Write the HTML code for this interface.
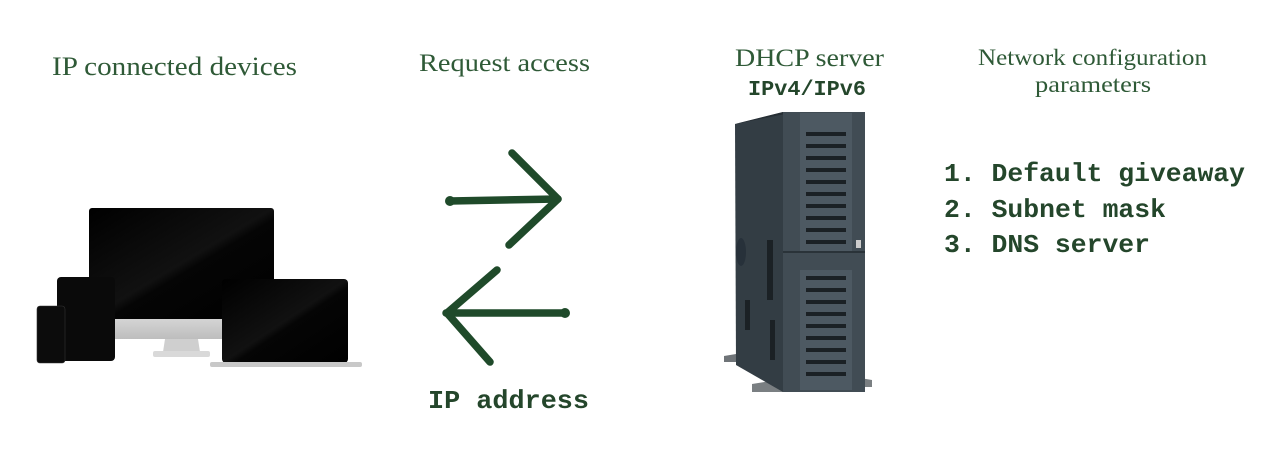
<!DOCTYPE html>
<html><head><meta charset="utf-8"><style>html,body{margin:0;padding:0;background:#fff}svg{display:block}</style></head>
<body>
<svg width="1280" height="449" viewBox="0 0 1280 449" xmlns="http://www.w3.org/2000/svg">
<defs>
<linearGradient id="scr" x1="0" y1="0" x2="1" y2="1"><stop offset="0" stop-color="#000"/><stop offset="0.5" stop-color="#111"/><stop offset="0.55" stop-color="#050505"/><stop offset="1" stop-color="#000"/></linearGradient>
<linearGradient id="silver" x1="0" y1="0" x2="0" y2="1"><stop offset="0" stop-color="#d8d8d8"/><stop offset="1" stop-color="#bdbdbd"/></linearGradient>
</defs>
<rect width="1280" height="449" fill="#fff"/>
<g font-family="'Liberation Serif', serif" fill="#2f5a37">
<text x="52" y="75" font-size="26" textLength="245" lengthAdjust="spacingAndGlyphs">IP connected devices</text>
<text x="419" y="71" font-size="25" textLength="171" lengthAdjust="spacingAndGlyphs">Request access</text>
<text x="735" y="66" font-size="25" textLength="149" lengthAdjust="spacingAndGlyphs">DHCP server</text>
<text x="978" y="65" font-size="23" textLength="229" lengthAdjust="spacingAndGlyphs">Network configuration</text>
<text x="1035" y="92" font-size="23" textLength="116" lengthAdjust="spacingAndGlyphs">parameters</text>
</g>
<g font-family="'Liberation Mono', monospace" font-weight="bold" fill="#24462b">
<text x="748" y="95" font-size="21" textLength="118" lengthAdjust="spacingAndGlyphs">IPv4/IPv6</text>
<text x="428" y="408" font-size="26" textLength="161" lengthAdjust="spacingAndGlyphs">IP address</text>
<text x="944" y="181" font-size="26" textLength="301" lengthAdjust="spacingAndGlyphs">1. Default giveaway</text>
<text x="944" y="217" font-size="26" textLength="222" lengthAdjust="spacingAndGlyphs">2. Subnet mask</text>
<text x="944" y="252" font-size="26" textLength="206" lengthAdjust="spacingAndGlyphs">3. DNS server</text>
</g>
<!-- arrows -->
<g stroke="#1f4a2a" stroke-width="7.5" fill="none" stroke-linecap="round" stroke-linejoin="round">
<path d="M450 201 L558 199"/><path d="M512 153 L558 199 L509 245"/>
<path d="M565 313 L446 313"/><path d="M497 270 L447 313 L490 362"/>
</g>
<g fill="#1f4a2a"><circle cx="450" cy="201" r="5"/><circle cx="565" cy="313" r="5"/></g>
<!-- devices -->
<rect x="115" y="316" width="107" height="23" fill="url(#silver)"/>
<path d="M165 339 L198 339 L200 352 L163 352 Z" fill="#cfcfcf"/>
<rect x="153" y="351" width="57" height="6" rx="2" fill="#d9d9d9"/>
<rect x="89" y="208" width="185" height="111" rx="3" fill="url(#scr)"/>
<rect x="57" y="277" width="58" height="84" rx="4" fill="#0a0a0a"/>
<rect x="37" y="306" width="28" height="57" rx="3" fill="#0c0c0c" stroke="#333" stroke-width="0.6"/>
<rect x="222" y="279" width="126" height="84" rx="4" fill="url(#scr)"/>
<rect x="210" y="362" width="152" height="5" rx="2" fill="#c8c8c8"/>
<!-- server -->
<path d="M724 356 L748 352 L748 362 L724 362 Z" fill="#6f7478"/>
<path d="M752 384 L790 378 L790 392 L752 392 Z" fill="#7a7f82"/>
<path d="M860 378 L872 380 L872 387 L860 387 Z" fill="#7a7f82"/>
<path d="M735 124 L783 112 L783 392 L736 365 Z" fill="#333d44"/>
<path d="M735 124 L783 112 L863 112 L863 114 L785 114 Z" fill="#262e34"/>
<rect x="783" y="112" width="82" height="280" fill="#414c54"/>
<rect x="800" y="113" width="52" height="140" fill="#4d5962"/>
<rect x="800" y="270" width="52" height="120" fill="#4d5962"/>
<line x1="783" y1="252" x2="865" y2="252" stroke="#2a3339" stroke-width="2"/>
<g fill="#1b2125">
<rect x="806" y="132" width="40" height="4"/><rect x="806" y="144" width="40" height="4"/><rect x="806" y="156" width="40" height="4"/><rect x="806" y="168" width="40" height="4"/><rect x="806" y="180" width="40" height="4"/><rect x="806" y="192" width="40" height="4"/><rect x="806" y="204" width="40" height="4"/><rect x="806" y="216" width="40" height="4"/><rect x="806" y="228" width="40" height="4"/><rect x="806" y="240" width="40" height="4"/>
<rect x="806" y="276" width="40" height="4"/><rect x="806" y="288" width="40" height="4"/><rect x="806" y="300" width="40" height="4"/><rect x="806" y="312" width="40" height="4"/><rect x="806" y="324" width="40" height="4"/><rect x="806" y="336" width="40" height="4"/><rect x="806" y="348" width="40" height="4"/><rect x="806" y="360" width="40" height="4"/><rect x="806" y="372" width="40" height="4"/>
<rect x="767" y="240" width="6" height="60"/><rect x="745" y="300" width="5" height="30"/><rect x="770" y="320" width="5" height="40"/>
</g>
<ellipse cx="741" cy="252" rx="5" ry="14" fill="#27313a"/>
<rect x="856" y="240" width="5" height="8" fill="#ccc"/>
</svg>
</body></html>
